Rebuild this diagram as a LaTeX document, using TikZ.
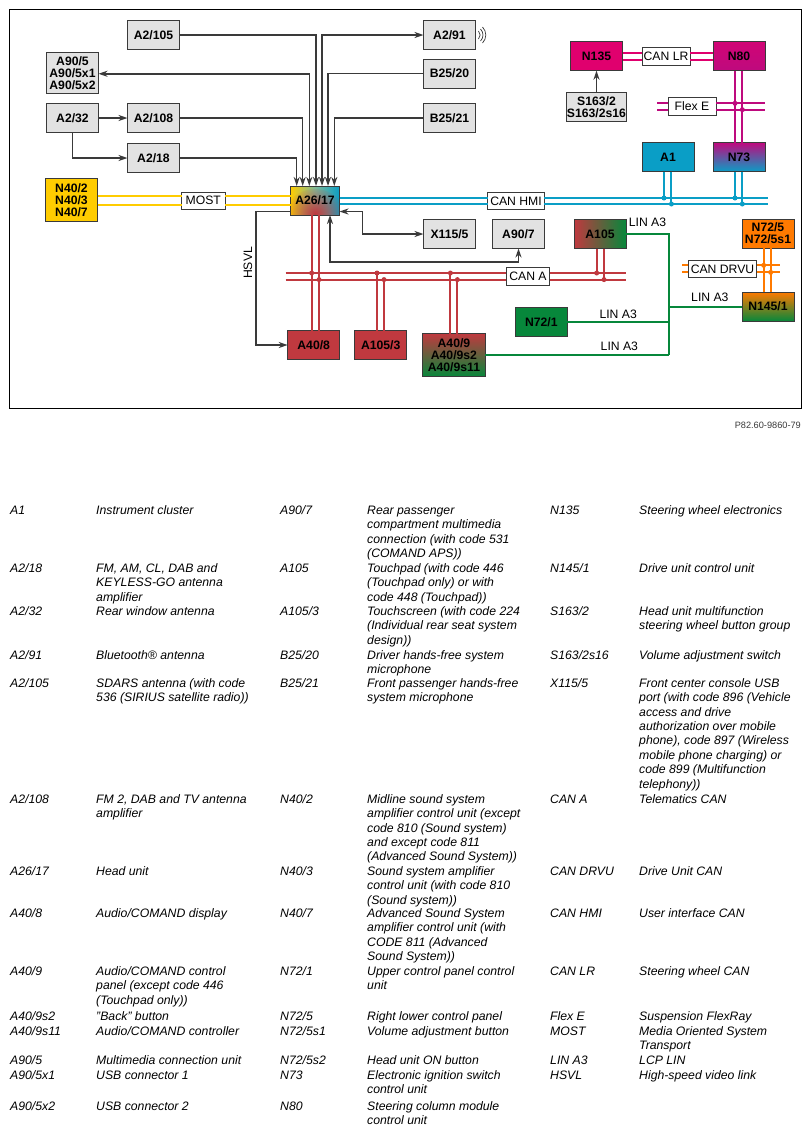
\documentclass[tikz,border=0pt]{standalone}
\usepackage{fontspec}
\setmainfont{Liberation Sans}
\usetikzlibrary{arrows.meta, positioning, calc, fadings}

\definecolor{edgegrey}{HTML}{3A3A3A}
\definecolor{boxgrey}{HTML}{E2E2E2}
\definecolor{mostyellow}{HTML}{FFCC00}
\definecolor{hmicyan}{HTML}{0A9EC6}
\definecolor{lrpink}{HTML}{E0006E}
\definecolor{flexpink}{HTML}{BE0A7E}
\definecolor{canared}{HTML}{C0393F}
\definecolor{lingreen}{HTML}{07873B}
\definecolor{drvuorange}{HTML}{FF7A00}
\tikzfading[name=redglow, inner color=transparent!0, outer color=transparent!100]

\begin{document}
\begin{tikzpicture}[
x=1pt,
y=-1pt,
every node/.style={font=\fontsize{12.2}{14.4}\selectfont},
unit/.style={
draw=edgegrey,
fill=boxgrey,
line width=1pt,
minimum width=52pt,
minimum height=29pt,
inner sep=0pt,
outer sep=0pt,
align=center,
font=\fontsize{12.2}{12}\selectfont\bfseries
},
buslabel/.style={
draw=edgegrey,
fill=white,
line width=0.8pt,
minimum height=17.5pt,
inner sep=0pt,
outer sep=0pt
},
link/.style={draw=edgegrey, line width=1.5pt, >={Stealth[length=9pt,width=6pt]}},
bus/.style={draw=#1, line width=2pt},
legkey/.style={anchor=north west, inner sep=0pt, align=left, font=\fontsize{12.25}{14.4}\selectfont\itshape},
legval/.style={anchor=north west, inner sep=0pt, align=left, font=\fontsize{12.25}{14.4}\selectfont\itshape}
]

\useasboundingbox (0,0) rectangle (811,1133);
\draw[line width=1pt] (9.5,9.5) rectangle (801,408);

% Nodes
\node[unit] (a2105) at (153.5,35) {A2/105};
\node[unit, below=54pt of a2105] (a2108) {A2/108};
\node[unit, below=11pt of a2108] (a218) {A2/18};
\node[unit, left=29pt of a2108] (a232) {A2/32};
\node[unit, above=10.5pt of a232, minimum height=40.5pt] (a905) {A90/5\\A90/5x1\\A90/5x2};
\node[unit, fill=mostyellow, minimum height=42.5pt, below=46pt of a232, xshift=-1pt] (n40) {N40/2\\N40/3\\N40/7};

\node[unit, minimum width=49pt, left color=mostyellow, right color=hmicyan, middle color=lingreen!45!boxgrey,
  path picture={\fill[canared, path fading=redglow] (path picture bounding box.south) ellipse (30 and 26);}] (a2617) at (315,200.5) {A26/17};
\node[buslabel, minimum width=43.5pt, right=84pt of n40, yshift=-1pt] (most) {MOST};

\node[unit] (a291) at (449.5,35) {A2/91};
\node[unit, below=9.5pt of a291] (b2520) {B25/20};
\node[unit, below=15.5pt of b2520] (b2521) {B25/21};

\node[unit, fill=lrpink] (n135) at (596.5,56.2) {N135};
\node[unit, top color=lrpink!55!flexpink, bottom color=flexpink, right=90.5pt of n135] (n80) {N80};
\node[buslabel, minimum width=48pt, right=19.5pt of n135] (canlr) {CAN LR};
\node[unit, minimum width=60.5pt, below=21.5pt of n135] (s163) {S163/2\\S163/2s16};
\node[buslabel, minimum width=48pt] (flexe) at (692,106.5) {Flex E};

\node[unit, top color=flexpink, bottom color=hmicyan, below=72pt of n80] (n73) {N73};
\node[unit, fill=hmicyan, left=19pt of n73] (a1) {A1};
\node[buslabel, minimum width=56.5pt] (canhmi) at (516,201) {CAN HMI};

\node[unit] (x1155) at (449.5,234) {X115/5};
\node[unit, right=17pt of x1155] (a907) {A90/7};
\node[unit, left color=canared, right color=lingreen, right=29.5pt of a907] (a105) {A105};
\node[buslabel, minimum width=43.5pt] (cana) at (528,276.3) {CAN A};

\node[unit, fill=canared] (a408) at (313.7,345) {A40/8};
\node[unit, fill=canared, right=15pt of a408] (a1053) {A105/3};
\node[unit, top color=canared, bottom color=lingreen, minimum width=62.5pt, minimum height=43pt, right=16pt of a1053, yshift=-10pt] (a409) {A40/9\\A40/9s2\\A40/9s11};
\node[unit, fill=lingreen] (n721) at (541.3,322) {N72/1};

\node[unit, fill=drvuorange] (n725) at (768,233.5) {N72/5\\N72/5s1};
\node[unit, top color=drvuorange, bottom color=lingreen, below=44pt of n725] (n1451) {N145/1};
\node[buslabel, minimum width=68.5pt] (candrvu) at (722.5,268.8) {CAN DRVU};

\node[rotate=90] (hsvl) at (248,263) {HSVL};
\node[anchor=east, inner sep=0pt, font=\fontsize{9.2}{11}\selectfont, text=edgegrey] (drawno) at (801,425) {P82.60-9860-79};

% Ports on the head unit
\foreach \port/\dx in {a/6.2, b/12.2, c/18.8, d/25.5, e/31.5, f/37.5, g/43.8} {
\coordinate (port\port) at ($(a2617.north west)+(\dx,0)$);
}
\coordinate (hsvlbend) at (256,345);
\coordinate (x115bend) at (362.3,234);
\coordinate (a907bend) at (518.5,262);
\coordinate (linjoin) at (669,355);

% Connections
\draw[link,->] (a218) -| (porta);
\draw[link,->] (a2108) -| (portb);
\draw[link,<->] ($(a905.east)+(0,1)$) -| (portc);
\draw[link,->] (a2105) -| (portd);
\draw[link,<->] (a291) -| (porte);
\draw[link,->] (b2520) -| (portf);
\draw[link,->] (b2521) -| (portg);
\draw[link,->] (a232) -- (a2108);
\draw[link,->] (a232.south) |- (a218);
\draw[link,->] (s163) -- (n135);

\draw[link,->] ($(a2617.west)+(0,11)$) -| (hsvlbend) -- (a408);
\draw[link,<->] ($(a2617.east)+(0,11)$) -| (x115bend) -- (x1155);
\draw[link,<->] ($(a2617.south west)+(39.5,0)$) |- (a907bend) -- (a907);

% Antenna waves
\foreach \dx/\h in {3/4, 5/6, 7/8} {
\draw[edgegrey, line width=0.7pt] ($(a291.east)+(\dx,-\h)$) to[bend left=45] ($(a291.east)+(\dx,\h)$);
}

% Bus pairs
\foreach \off in {-4.5,4.5} {
\coordinate (rail) at ($(most.center)+(0,\off)$);
\draw[bus=mostyellow] (rail -| n40.east) -- (rail -| most.west) (rail -| most.east) -- (rail -| a2617.west);
}
\foreach \off in {-3.7,3.7} {
\coordinate (rail) at ($(canlr.center)+(0,\off)$);
\draw[bus=lrpink] (rail -| n135.east) -- (rail -| canlr.west) (rail -| canlr.east) -- (rail -| n80.west);
}

% Flex E
\foreach \off in {-3.2,3.2} {
\coordinate (rail) at ($(flexe.center)+(0,\off)$);
\draw[bus=flexpink] (657.3,0 |- rail) -- (rail -| flexe.west) (rail -| flexe.east) -- (765.3,0 |- rail);
}
\foreach \dx/\off in {22/-3.2, 29.3/3.2} {
\coordinate (tap) at ($(n80.south west)+(\dx,0)$);
\coordinate (rail) at ($(flexe.center)+(0,\off)$);
\draw[bus=flexpink] (tap) -- (tap |- n73.north);
\fill[flexpink] (tap |- rail) circle (2.5);
}

% CAN HMI
\foreach \off in {-3,3} {
\coordinate (rail) at ($(canhmi.center)+(0,\off)$);
\draw[bus=hmicyan] (rail -| a2617.east) -- (rail -| canhmi.west) (rail -| canhmi.east) -- (768,0 |- rail);
}
\foreach \unitname/\dx/\off in {a1/22/-3, a1/29.4/3, n73/22/-3, n73/29.3/3} {
\coordinate (tap) at ($(\unitname.south west)+(\dx,0)$);
\coordinate (rail) at ($(canhmi.center)+(0,\off)$);
\draw[bus=hmicyan] (tap) -- (tap |- rail);
\fill[hmicyan] (tap |- rail) circle (2.5);
}

% CAN A
\foreach \off in {-3.3,3.3} {
\coordinate (rail) at ($(cana.center)+(0,\off)$);
\draw[bus=canared] (285.7,0 |- rail) -- (rail -| cana.west) (rail -| cana.east) -- (625.7,0 |- rail);
}
\foreach \dx/\off in {21.2/-3.3, 28.5/3.3} {
\coordinate (tap) at ($(a2617.south west)+(\dx,0)$);
\coordinate (rail) at ($(cana.center)+(0,\off)$);
\draw[bus=canared] (tap) -- (tap |- a408.north);
\fill[canared] (tap |- rail) circle (2.5);
}
\foreach \unitname/\side/\dx/\off in {a1053/north west/22.3/-3.3, a1053/north west/29.3/3.3, a409/north west/27.7/-3.3, a409/north west/34.7/3.3, a105/south west/22.7/-3.3, a105/south west/30/3.3} {
\coordinate (tap) at ($(\unitname.\side)+(\dx,0)$);
\coordinate (rail) at ($(cana.center)+(0,\off)$);
\draw[bus=canared] (tap) -- (tap |- rail);
\fill[canared] (tap |- rail) circle (2.5);
}

% CAN DRVU
\foreach \off in {-3.5,3.5} {
\coordinate (rail) at ($(candrvu.center)+(0,\off)$);
\draw[bus=drvuorange] (682.3,0 |- rail) -- (rail -| candrvu.west) (rail -| candrvu.east) -- (780,0 |- rail);
}
\foreach \dx/\off in {21.7/-3.5, 28.7/3.5} {
\coordinate (tap) at ($(n725.south west)+(\dx,0)$);
\coordinate (rail) at ($(candrvu.center)+(0,\off)$);
\draw[bus=drvuorange] (tap) -- (tap |- n1451.north);
\fill[drvuorange] (tap |- rail) circle (2.5);
}

% LIN A3
\draw[bus=lingreen] (a105) -| node[pos=0.25, above=6pt, inner sep=0pt] (lina) {LIN A3} (linjoin);
\draw[bus=lingreen] (a409) -- node[pos=0.73, above=3pt, inner sep=0pt] (lind) {LIN A3} (linjoin);
\draw[bus=lingreen] (n721) -- node[above=2.7pt, inner sep=0pt] (linc) {LIN A3} (n721 -| linjoin);
\draw[bus=lingreen] (n1451) -- node[pos=0.44, above=4pt, inner sep=0pt] (linb) {LIN A3} (n1451 -| linjoin);

% Legend
\foreach \key/\val/\ypos [count=\i] in {
{A1}/{Instrument cluster}/510,
{A2/18}/{FM, AM, CL, DAB and\\KEYLESS-GO antenna\\amplifier}/568,
{A2/32}/{Rear window antenna}/611,
{A2/91}/{Bluetooth® antenna}/655,
{A2/105}/{SDARS antenna (with code\\536 (SIRIUS satellite radio))}/683,
{A2/108}/{FM 2, DAB and TV antenna\\amplifier}/799,
{A26/17}/{Head unit}/871,
{A40/8}/{Audio/COMAND display}/913,
{A40/9}/{Audio/COMAND control\\panel (except code 446\\(Touchpad only))}/971,
{A40/9s2}/{"Back" button}/1016,
{A40/9s11}/{Audio/COMAND controller}/1031,
{A90/5}/{Multimedia connection unit}/1060,
{A90/5x1}/{USB connector 1}/1075,
{A90/5x2}/{USB connector 2}/1106} {
\node[legkey] (keya\i) at (10,\ypos-6) {\strut\key};
\node[legval] (vala\i) at (96,\ypos-6) {\strut\val};
}
\foreach \key/\val/\ypos [count=\i] in {
{A90/7}/{Rear passenger\\compartment multimedia\\connection (with code 531\\(COMAND APS))}/510,
{A105}/{Touchpad (with code 446\\(Touchpad only) or with\\code 448 (Touchpad))}/568,
{A105/3}/{Touchscreen (with code 224\\(Individual rear seat system\\design))}/611,
{B25/20}/{Driver hands-free system\\microphone}/655,
{B25/21}/{Front passenger hands-free\\system microphone}/683,
{N40/2}/{Midline sound system\\amplifier control unit (except\\code 810 (Sound system)\\and except code 811\\(Advanced Sound System))}/799,
{N40/3}/{Sound system amplifier\\control unit (with code 810\\(Sound system))}/871,
{N40/7}/{Advanced Sound System\\amplifier control unit (with\\CODE 811 (Advanced\\Sound System))}/913,
{N72/1}/{Upper control panel control\\unit}/971,
{N72/5}/{Right lower control panel}/1016,
{N72/5s1}/{Volume adjustment button}/1031,
{N72/5s2}/{Head unit ON button}/1060,
{N73}/{Electronic ignition switch\\control unit}/1075,
{N80}/{Steering column module\\control unit}/1106} {
\node[legkey] (keyb\i) at (280,\ypos-6) {\strut\key};
\node[legval] (valb\i) at (367,\ypos-6) {\strut\val};
}
\foreach \key/\val/\ypos [count=\i] in {
{N135}/{Steering wheel electronics}/510,
{N145/1}/{Drive unit control unit}/568,
{S163/2}/{Head unit multifunction\\steering wheel button group}/611,
{S163/2s16}/{Volume adjustment switch}/655,
{X115/5}/{Front center console USB\\port (with code 896 (Vehicle\\access and drive\\authorization over mobile\\phone), code 897 (Wireless\\mobile phone charging) or\\code 899 (Multifunction\\telephony))}/683,
{CAN A}/{Telematics CAN}/799,
{CAN DRVU}/{Drive Unit CAN}/871,
{CAN HMI}/{User interface CAN}/913,
{CAN LR}/{Steering wheel CAN}/971,
{Flex E}/{Suspension FlexRay}/1016,
{MOST}/{Media Oriented System\\Transport}/1031,
{LIN A3}/{LCP LIN}/1060,
{HSVL}/{High-speed video link}/1075} {
\node[legkey] (keyc\i) at (550,\ypos-6) {\strut\key};
\node[legval] (valc\i) at (639,\ypos-6) {\strut\val};
}

\end{tikzpicture}
\end{document}
